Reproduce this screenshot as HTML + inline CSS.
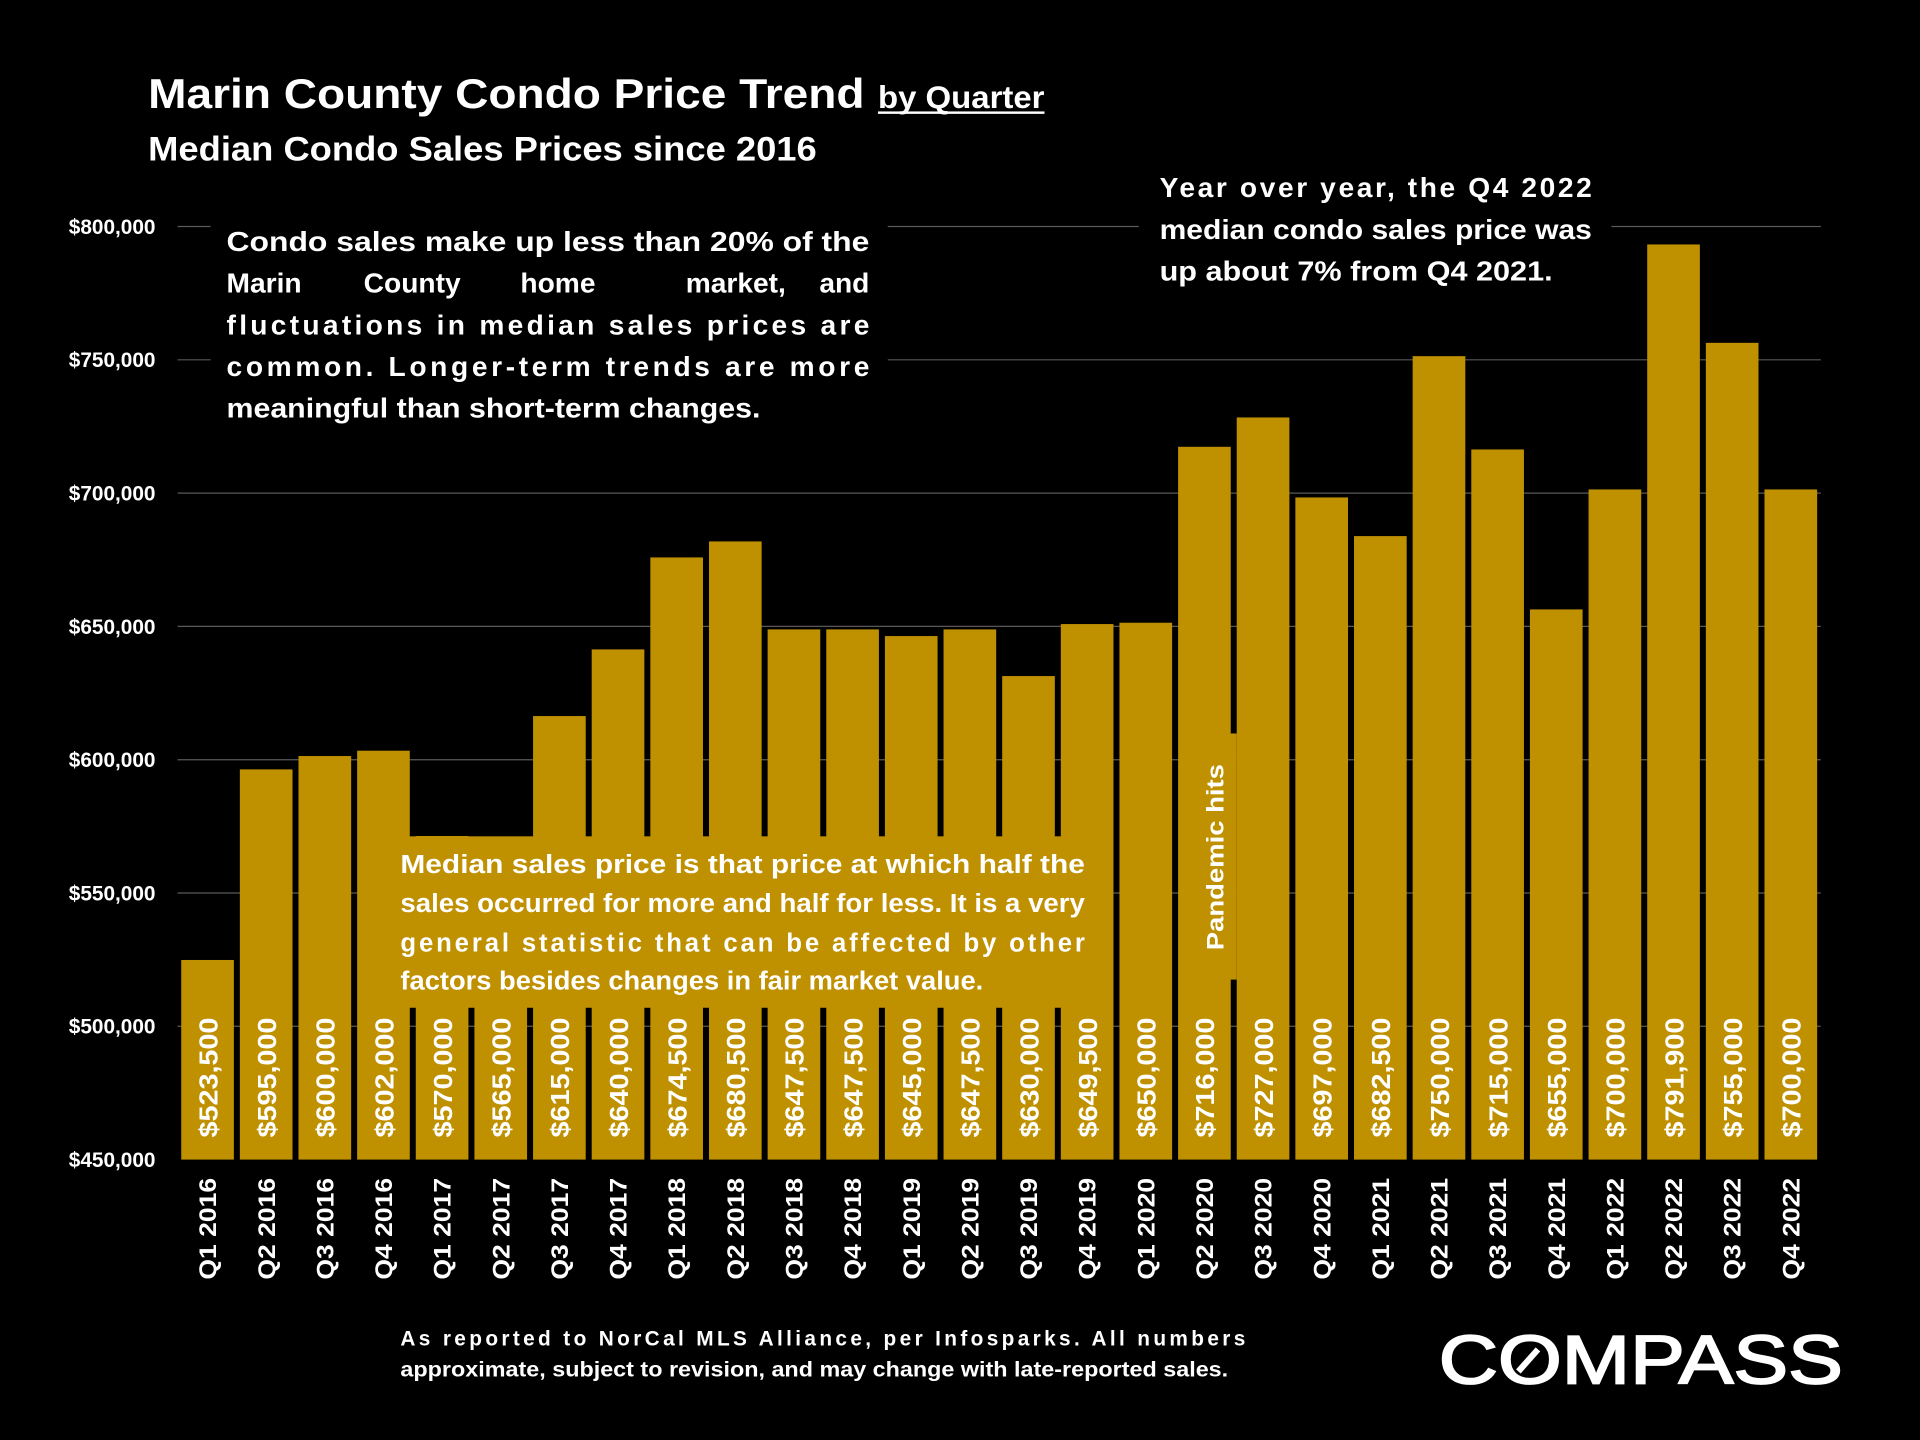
<!DOCTYPE html>
<html><head><meta charset="utf-8"><style>
html,body{margin:0;padding:0;background:#000;}
svg{display:block;}
text{font-family:"Liberation Sans",sans-serif;font-weight:bold;fill:#fff;}
</style></head><body>
<svg id="chart" width="1920" height="1440" viewBox="0 0 1568 1176" xmlns="http://www.w3.org/2000/svg">
<rect x="0" y="0" width="1568" height="1176" fill="#000"/>
<g id="grid"></g>
<g id="bars"></g>
<g id="yticks"></g>
<g id="xlabels"></g>

<text x="121" y="88" font-size="34" textLength="585" lengthAdjust="spacingAndGlyphs">Marin County Condo Price Trend</text>
<text x="717" y="88" font-size="26" textLength="136" lengthAdjust="spacingAndGlyphs">by Quarter</text>
<rect x="717" y="91" width="136" height="2" fill="#fff"/>
<text x="121" y="131" font-size="28" textLength="546" lengthAdjust="spacingAndGlyphs">Median Condo Sales Prices since 2016</text>

<g>
<rect x="172" y="178" width="553" height="174" fill="#000"/>
<text x="185" y="205" font-size="23" textLength="525" lengthAdjust="spacingAndGlyphs">Condo sales make up less than 20% of the</text>
<text x="185" y="239" font-size="23">Marin</text>
<text x="297" y="239" font-size="23">County</text>
<text x="425" y="239" font-size="23">home</text>
<text x="560" y="239" font-size="23">market,</text>
<text x="710" y="239" font-size="23" text-anchor="end">and</text>
<text x="185" y="273" font-size="23" textLength="525" lengthAdjust="spacing">fluctuations in median sales prices are</text>
<text x="185" y="307" font-size="23" textLength="525" lengthAdjust="spacing">common. Longer-term trends are more</text>
<text x="185" y="341" font-size="23" textLength="436" lengthAdjust="spacingAndGlyphs">meaningful than short-term changes.</text>
</g>

<g>
<rect x="930" y="138" width="386" height="108" fill="#000"/>
<text x="947" y="161" font-size="23" textLength="353" lengthAdjust="spacing">Year over year, the Q4 2022</text>
<text x="947" y="195" font-size="23" textLength="353" lengthAdjust="spacingAndGlyphs">median condo sales price was</text>
<text x="947" y="229" font-size="23" textLength="321" lengthAdjust="spacingAndGlyphs">up about 7% from Q4 2021.</text>
</g>

<g>
<rect x="315" y="683" width="582" height="140" fill="#BF9000"/>
<text x="327" y="713" font-size="21" textLength="559" lengthAdjust="spacingAndGlyphs">Median sales price is that price at which half the</text>
<text x="327" y="745" font-size="21" textLength="559" lengthAdjust="spacingAndGlyphs">sales occurred for more and half for less. It is a very</text>
<text x="327" y="777" font-size="21" textLength="559" lengthAdjust="spacing">general statistic that can be affected by other</text>
<text x="327" y="808" font-size="21" textLength="476" lengthAdjust="spacingAndGlyphs">factors besides changes in fair market value.</text>
</g>

<g>
<rect x="970" y="599" width="40" height="201" fill="#BF9000"/>
<text transform="translate(999,776) rotate(-90)" font-size="20" textLength="152" lengthAdjust="spacingAndGlyphs">Pandemic hits</text>
</g>

<g>
<text x="327" y="1099" font-size="17" textLength="690" lengthAdjust="spacing">As reported to NorCal MLS Alliance, per Infosparks. All numbers</text>
<text x="327" y="1124" font-size="17" textLength="676" lengthAdjust="spacingAndGlyphs">approximate, subject to revision, and may change with late-reported sales.</text>
</g>

<g>
<text x="1175" y="1130" font-size="56" style="font-weight:normal" stroke="#fff" stroke-width="1.5" textLength="330" lengthAdjust="spacingAndGlyphs">COMPASS</text>
<line x1="1240" y1="1120" x2="1256" y2="1102" stroke="#fff" stroke-width="5"/>
</g>

<script>
const categories = ["Q1 2016","Q2 2016","Q3 2016","Q4 2016","Q1 2017","Q2 2017","Q3 2017","Q4 2017","Q1 2018","Q2 2018","Q3 2018","Q4 2018","Q1 2019","Q2 2019","Q3 2019","Q4 2019","Q1 2020","Q2 2020","Q3 2020","Q4 2020","Q1 2021","Q2 2021","Q3 2021","Q4 2021","Q1 2022","Q2 2022","Q3 2022","Q4 2022"];
const prices = [523500,595000,600000,602000,570000,565000,615000,640000,674500,680500,647500,647500,645000,647500,630000,649500,650000,716000,727000,697000,682500,750000,715000,655000,700000,791900,755000,700000];
const priceLabels = ["$523,500","$595,000","$600,000","$602,000","$570,000","$565,000","$615,000","$640,000","$674,500","$680,500","$647,500","$647,500","$645,000","$647,500","$630,000","$649,500","$650,000","$716,000","$727,000","$697,000","$682,500","$750,000","$715,000","$655,000","$700,000","$791,900","$755,000","$700,000"];
const yTicks = [450000,500000,550000,600000,650000,700000,750000,800000];
const yTickLabels = ["$450,000","$500,000","$550,000","$600,000","$650,000","$700,000","$750,000","$800,000"];

const NS = "http://www.w3.org/2000/svg";
const yMin = 450000, yMax = 800000, yBottom = 947, yTop = 185;
function yScale(v){ return yBottom - (v - yMin) / (yMax - yMin) * (yBottom - yTop); }
const x0 = 148, pitch = (1441 - 148) / (categories.length - 1), bw = 43;
function xScale(i){ return x0 + i * pitch; }

const grid = document.getElementById('grid');
const yt = document.getElementById('yticks');
yTicks.forEach((t, i) => {
  const y = yScale(t);
  if (i > 0) {
    const l = document.createElementNS(NS, 'line');
    l.setAttribute('x1', 145); l.setAttribute('x2', 1487);
    l.setAttribute('y1', y); l.setAttribute('y2', y);
    l.setAttribute('stroke', '#595959'); l.setAttribute('stroke-width', 1);
    
    
    grid.appendChild(l);
  }
  const tx = document.createElementNS(NS, 'text');
  tx.setAttribute('x', 127); tx.setAttribute('y', y + 6);
  tx.setAttribute('text-anchor', 'end'); tx.setAttribute('font-size', 17);
  tx.textContent = yTickLabels[i];
  
  
  yt.appendChild(tx);
});

const bars = document.getElementById('bars');
const xl = document.getElementById('xlabels');
categories.forEach((c, i) => {
  const x = xScale(i), y = yScale(prices[i]) - 3;
  const r = document.createElementNS(NS, 'rect');
  r.setAttribute('x', x); r.setAttribute('y', y);
  r.setAttribute('width', bw); r.setAttribute('height', yBottom - y);
  r.setAttribute('fill', '#BF9000');
  
  
  bars.appendChild(r);
  const cx = x + bw / 2;
  const v = document.createElementNS(NS, 'text');
  v.setAttribute('transform', 'translate(' + (cx + 8) + ',929) rotate(-90)');
  v.setAttribute('font-size', 21);
  v.setAttribute('textLength', 98);
  v.setAttribute('lengthAdjust', 'spacingAndGlyphs');
  v.textContent = priceLabels[i];
  
  
  bars.appendChild(v);
  const t = document.createElementNS(NS, 'text');
  t.setAttribute('transform', 'translate(' + (cx + 7) + ',962) rotate(-90)');
  t.setAttribute('text-anchor', 'end');
  t.setAttribute('font-size', 20);
  t.setAttribute('textLength', 83);
  t.setAttribute('lengthAdjust', 'spacingAndGlyphs');
  t.textContent = c;
  
  
  xl.appendChild(t);
});
</script>
</svg>
</body></html>
